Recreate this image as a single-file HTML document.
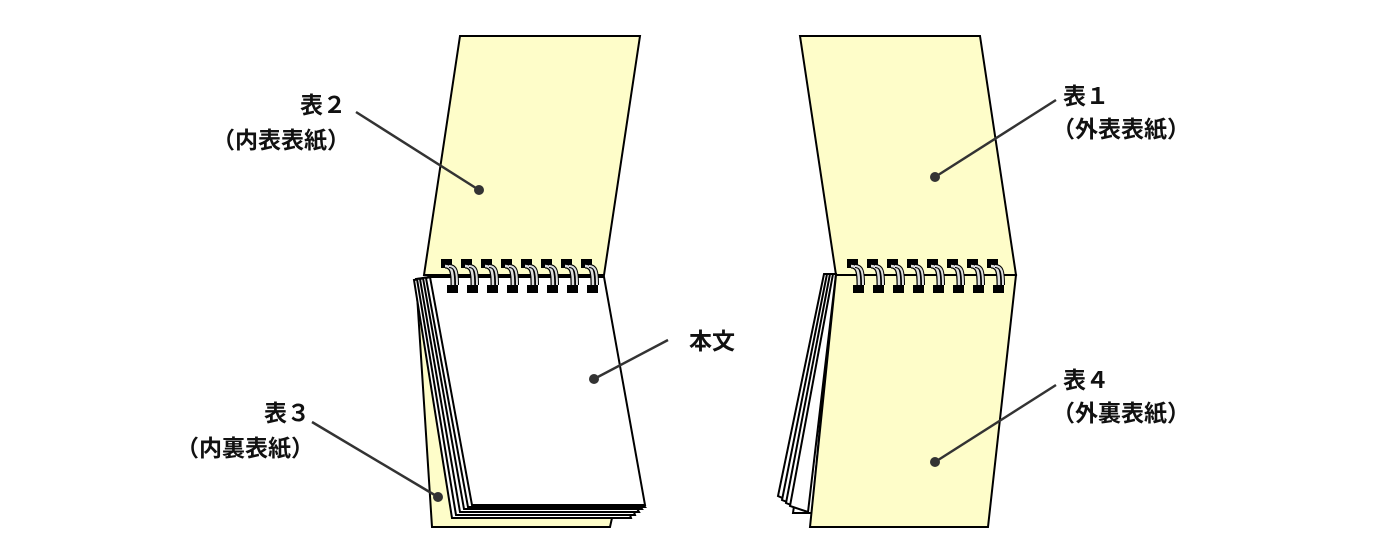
<!DOCTYPE html>
<html><head><meta charset="utf-8"><style>
body{margin:0;background:#fff}
svg{display:block}
text{font-family:"Noto Sans CJK JP","Liberation Sans",sans-serif;font-size:23px;font-weight:bold;fill:#111}
</style></head><body>
<svg width="1400" height="560" viewBox="0 0 1400 560" xmlns="http://www.w3.org/2000/svg">
<defs>
<g id="ring">
<rect x="-5" y="259" width="11" height="9" fill="#000"/>
<path d="M-1 266 C6 266 7 272 7 285" stroke="#000" stroke-width="5" fill="none"/>
<path d="M-1 266 C6 266 7 272 7 285" stroke="#ddd" stroke-width="2.5" fill="none"/>
<path d="M3 266 C10 266 11 272 11 285" stroke="#000" stroke-width="4" fill="none"/>
<path d="M3 266 C10 266 11 272 11 285" stroke="#ddd" stroke-width="2" fill="none"/>
<rect x="1" y="285" width="11" height="8" fill="#000"/>
</g>
</defs>
<g stroke="#000" stroke-width="2" stroke-linejoin="miter">
<polygon points="460,36 640,36 604,275 424,275" fill="#fefdc9"/>
<polygon points="416,279 430,277 612,518 610,527 432,527" fill="#fefdc9"/>
<polygon points="414,280 427,278 624,496 631,518 452,518" fill="#fff"/>
<polygon points="417,279 428,278 628,494 635,515 456,515" fill="#fff"/>
<polygon points="420,279 429,277 632,500 639,512 460,512" fill="#fff"/>
<polygon points="423,278 430,277 636,500 642,509 464,509" fill="#fff"/>
<polygon points="426,278 431,277 640,500 645,507 468,507" fill="#fff"/>
<polygon points="430,277 604,277 645,505 472,505" fill="#fff"/>
<polygon points="800,36 980,36 1016,275 836,275" fill="#fefdc9"/>
<polygon points="828,274 834,274 812,513 793,513" fill="#fff"/>
<polygon points="824,274 833,274 796,504 778,496" fill="#fff"/>
<polygon points="827,274 834,274 800,507 782,500" fill="#fff"/>
<polygon points="830,274 835,274 804,510 786,503" fill="#fff"/>
<polygon points="833,274 836,274 808,512 790,506" fill="#fff"/>
<polygon points="836,275 1016,275 988,527 810,527" fill="#fefdc9"/>
</g>
<g>
<use href="#ring" x="446"/><use href="#ring" x="466"/><use href="#ring" x="486"/><use href="#ring" x="506"/>
<use href="#ring" x="526"/><use href="#ring" x="546"/><use href="#ring" x="566"/><use href="#ring" x="586"/>
<use href="#ring" x="852"/><use href="#ring" x="872"/><use href="#ring" x="892"/><use href="#ring" x="912"/>
<use href="#ring" x="932"/><use href="#ring" x="952"/><use href="#ring" x="972"/><use href="#ring" x="992"/>
</g>
<g stroke="#333" stroke-width="2.5">
<line x1="356" y1="112" x2="479" y2="190"/>
<line x1="668" y1="340" x2="594" y2="379"/>
<line x1="312" y1="422" x2="438" y2="497"/>
<line x1="1056" y1="100" x2="935" y2="177"/>
<line x1="1056" y1="385" x2="935" y2="462"/>
</g>
<g fill="#333">
<circle cx="479" cy="190" r="5"/><circle cx="594" cy="379" r="5"/><circle cx="438" cy="497" r="5"/>
<circle cx="935" cy="177" r="5"/><circle cx="935" cy="462" r="5"/>
</g>
<text x="346" y="113" text-anchor="end">表２</text>
<text x="350" y="148" text-anchor="end">（内表表紙）</text>
<text x="689" y="349">本文</text>
<text x="310" y="421" text-anchor="end">表３</text>
<text x="314" y="456" text-anchor="end">（内裏表紙）</text>
<text x="1063" y="104">表１</text>
<text x="1052" y="137">（外表表紙）</text>
<text x="1063" y="388">表４</text>
<text x="1052" y="421">（外裏表紙）</text>
</svg>
</body></html>
